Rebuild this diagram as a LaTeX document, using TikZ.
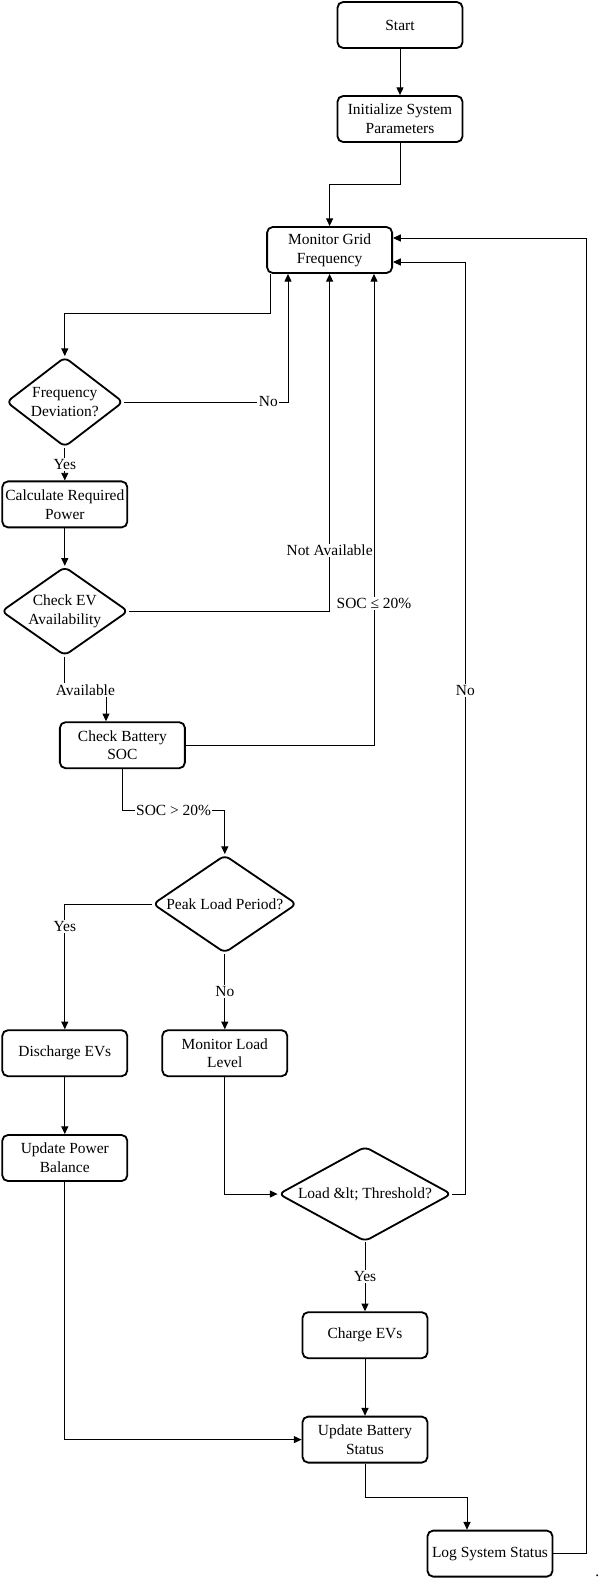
\documentclass[tikz,border=0pt]{standalone}
\usepackage{fontspec}
\setmainfont{Liberation Serif}
\usepackage{tikz}
\usetikzlibrary{arrows.meta,positioning,shapes.geometric}

\begin{document}
\begin{tikzpicture}[
  font=\fontsize{11}{13.5}\selectfont,
  >={Triangle[width=5pt,length=5.5pt]},
  procbox/.style={draw,line width=1.3pt,rounded corners=4pt,fill=white,
    align=center,inner sep=1pt,minimum width=3.125cm,minimum height=1.15cm},
  decision/.style={draw,diamond,line width=1.3pt,rounded corners=4pt,
    fill=white,align=center,inner sep=0pt},
  flow/.style={->,line width=0.7pt},
  branch/.style={fill=white,inner sep=1pt}
]
  \useasboundingbox (0,0) rectangle (15,-39.45);

  \node[procbox] (start) at (10.00,-0.625) {Start};
  \node[procbox] (init) at (10.00,-2.975)
    {Initialize System\\Parameters};
  \node[procbox] (monitor) at (8.24,-6.25)
    {Monitor Grid\\Frequency};
  \node[decision,minimum width=2.925cm,minimum height=2.25cm,aspect=1.3]
    (freqdev) at (1.62,-10.05) {Frequency\\Deviation?};
  \node[procbox] (calcpower) at (1.62,-12.61)
    {Calculate Required\\Power};
  \node[decision,minimum width=3.175cm,minimum height=2.225cm,aspect=1.43]
    (evcheck) at (1.62,-15.28) {Check EV\\Availability};
  \node[procbox] (soccheck) at (3.06,-18.63)
    {Check Battery\\SOC};
  \node[decision,minimum width=3.6cm,minimum height=2.45cm,aspect=1.47]
    (peakload) at (5.62,-22.60) {Peak Load Period?};
  \node[procbox] (discharge) at (1.62,-26.33) {Discharge EVs};
  \node[procbox] (loadlevel) at (5.62,-26.33)
    {Monitor Load\\Level};
  \node[procbox] (powerbal) at (1.62,-28.95)
    {Update Power\\Balance};
  \node[decision,minimum width=4.325cm,minimum height=2.375cm,aspect=1.82]
    (threshold) at (9.125,-29.85) {Load \&lt; Threshold?};
  \node[procbox] (charge) at (9.125,-33.38) {Charge EVs};
  \node[procbox] (batstatus) at (9.125,-35.99)
    {Update Battery\\Status};
  \node[procbox] (logstatus) at (12.25,-38.84) {Log System Status};
  \node[anchor=base,inner sep=0pt] (enddot) at (14.93,-39.40) {.};

  \draw[flow] (start) -- (init);
  \draw[flow] (init.south) -- ++(0,-1.03) -| (monitor.north);
  \draw[flow] ([xshift=1mm]monitor.south west) -- ++(0,-1.0) -| (freqdev.north);
  \draw[flow] (freqdev.east) -| node[branch,pos=0.44] {No}
    ([xshift=-10.4mm]monitor.south);
  \draw[flow] (freqdev) -- node[branch] {Yes} (calcpower);
  \draw[flow] (calcpower) -- (evcheck);
  \draw[flow] (evcheck.east) -| node[branch,pos=0.59] {Not Available}
    (monitor.south);
  \draw[flow] (evcheck.south) -- ++(0,-0.83) -| node[branch,pos=0.25] {Available}
    ([xshift=-4.1mm]soccheck.north);
  \draw[flow] (soccheck.east) -| node[branch,pos=0.65] {SOC ≤ 20\%}
    ([xshift=11.1mm]monitor.south);
  \draw[flow] (soccheck.south) -- ++(0,-1.025) -| node[branch,pos=0.25] {SOC > 20\%}
    (peakload.north);

  \draw[flow] (peakload.west) -| node[branch,pos=0.59] {Yes} (discharge.north);
  \draw[flow] (peakload) -- node[branch] {No} (loadlevel);
  \draw[flow] (discharge) -- (powerbal);
  \draw[flow] (loadlevel.south) |- (threshold.west);
  \draw[flow] (threshold.east) -- ++(0.325,0) |- node[branch,pos=0.27] {No}
    ([yshift=-3mm]monitor.east);
  \draw[flow] (threshold) -- node[branch] {Yes} (charge);
  \draw[flow] (charge) -- (batstatus);
  \draw[flow] (powerbal.south) |- (batstatus.west);
  \draw[flow] (batstatus.south) -- ++(0,-0.85) -| ([xshift=-5.75mm]logstatus.north);
  \draw[flow] (logstatus.east) -- ++(0.825,0) |- ([yshift=3mm]monitor.east);
\end{tikzpicture}
\end{document}
